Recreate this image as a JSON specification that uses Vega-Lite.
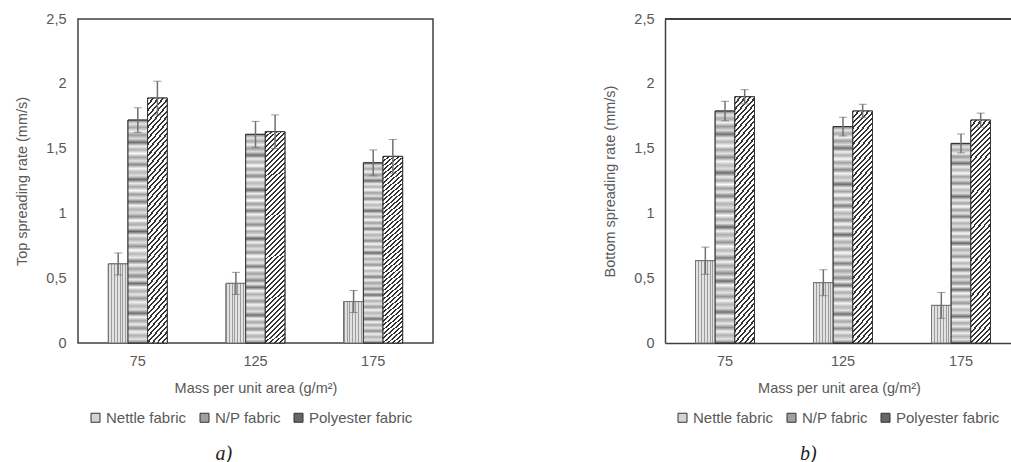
{
"$schema": "https://vega.github.io/schema/vega-lite/v6.json",
"background": "white",
"padding": {"left": 14, "top": 10, "right": 0, "bottom": 0},
"datasets": {
"top": [
{"mass": "75", "fabric": "Nettle fabric", "value": 0.61, "err": 0.085},
{"mass": "75", "fabric": "N/P fabric", "value": 1.72, "err": 0.095},
{"mass": "75", "fabric": "Polyester fabric", "value": 1.89, "err": 0.13},
{"mass": "125", "fabric": "Nettle fabric", "value": 0.46, "err": 0.085},
{"mass": "125", "fabric": "N/P fabric", "value": 1.61, "err": 0.1},
{"mass": "125", "fabric": "Polyester fabric", "value": 1.63, "err": 0.13},
{"mass": "175", "fabric": "Nettle fabric", "value": 0.32, "err": 0.085},
{"mass": "175", "fabric": "N/P fabric", "value": 1.39, "err": 0.1},
{"mass": "175", "fabric": "Polyester fabric", "value": 1.44, "err": 0.13}
],
"bottom": [
{"mass": "75", "fabric": "Nettle fabric", "value": 0.635, "err": 0.105},
{"mass": "75", "fabric": "N/P fabric", "value": 1.79, "err": 0.075},
{"mass": "75", "fabric": "Polyester fabric", "value": 1.9, "err": 0.055},
{"mass": "125", "fabric": "Nettle fabric", "value": 0.465, "err": 0.1},
{"mass": "125", "fabric": "N/P fabric", "value": 1.67, "err": 0.072},
{"mass": "125", "fabric": "Polyester fabric", "value": 1.79, "err": 0.052},
{"mass": "175", "fabric": "Nettle fabric", "value": 0.29, "err": 0.1},
{"mass": "175", "fabric": "N/P fabric", "value": 1.54, "err": 0.073},
{"mass": "175", "fabric": "Polyester fabric", "value": 1.72, "err": 0.054}
]
},
"config": {
"font": "Liberation Sans",
"view": {"stroke": null},
"axis": {"labelFont": "Liberation Sans", "labelFontSize": 14.5, "labelColor": "#595959", "titleFont": "Liberation Sans", "titleFontSize": 14.5, "titleFontWeight": "normal", "titleColor": "#595959", "grid": false, "ticks": false, "domain": false},
"legend": {"orient": "none", "legendX": 10, "legendY": 391, "direction": "horizontal", "title": null, "symbolType": "square", "symbolSize": 81, "symbolStrokeColor": "#333333", "symbolStrokeWidth": 1, "labelFont": "Liberation Sans", "labelFontSize": 15, "labelColor": "#595959", "columnPadding": 10, "labelOffset": 3},
"title": {"orient": "bottom", "anchor": "middle", "frame": "bounds", "font": "Liberation Serif", "fontStyle": "italic", "fontSize": 20, "fontWeight": "normal", "color": "#222222", "offset": 18}
},
"spacing": 168,
"resolve": {"scale": {"x": "independent", "y": "independent", "xOffset": "independent"}, "axis": {"x": "independent", "y": "independent"}, "legend": {"color": "independent"}},
"hconcat": [
{
"width": 355, "height": 324,
"data": {"name": "top"},
"view": {"stroke": "#404040", "strokeWidth": 1.5},
"title": {"text": "a)"},
"encoding": {
"x": {"field": "mass", "type": "ordinal", "sort": ["75", "125", "175"], "scale": {"paddingInner": 0.5, "paddingOuter": 0.258}, "axis": {"labelAngle": 0, "labelPadding": 11, "title": "Mass per unit area (g/m²)", "titlePadding": 14}},
"xOffset": {"field": "fabric", "type": "nominal", "sort": ["Nettle fabric", "N/P fabric", "Polyester fabric"], "scale": {"paddingInner": 0, "paddingOuter": 0}},
"y": {"field": "value", "type": "quantitative", "scale": {"domain": [0, 2.5], "nice": false}, "axis": {"values": [0, 0.5, 1, 1.5, 2, 2.5], "labelExpr": "replace(format(datum.value, '~g'), '.', ',')", "title": "Top spreading rate (mm/s)", "labelPadding": 12, "titlePadding": 16}}
},
"layer": [
{"mark": {"type": "bar", "stroke": "#333333", "strokeWidth": 1},
"encoding": {"color": {"field": "fabric", "type": "nominal", "sort": ["Nettle fabric", "N/P fabric", "Polyester fabric"], "scale": {"domain": ["Nettle fabric", "N/P fabric", "Polyester fabric"], "range": ["#d4d4d4", "#a0a0a0", "#666666"]}}}},
{"transform": [{"filter": "datum.fabric === 'Nettle fabric'"}],
"mark": {"type": "bar", "stroke": "#777777", "strokeWidth": 1, "fill": {"gradient": "linear", "x1": 0, "y1": 0, "x2": 1, "y2": 0, "stops": [
{"offset": 0, "color": "#9c9c9c"}, {"offset": 0.05, "color": "#9c9c9c"}, {"offset": 0.05, "color": "#e2e2e2"}, {"offset": 0.1429, "color": "#e2e2e2"},
{"offset": 0.1429, "color": "#9c9c9c"}, {"offset": 0.1929, "color": "#9c9c9c"}, {"offset": 0.1929, "color": "#e2e2e2"}, {"offset": 0.2857, "color": "#e2e2e2"},
{"offset": 0.2857, "color": "#9c9c9c"}, {"offset": 0.3357, "color": "#9c9c9c"}, {"offset": 0.3357, "color": "#e2e2e2"}, {"offset": 0.4286, "color": "#e2e2e2"},
{"offset": 0.4286, "color": "#9c9c9c"}, {"offset": 0.4786, "color": "#9c9c9c"}, {"offset": 0.4786, "color": "#e2e2e2"}, {"offset": 0.5714, "color": "#e2e2e2"},
{"offset": 0.5714, "color": "#9c9c9c"}, {"offset": 0.6214, "color": "#9c9c9c"}, {"offset": 0.6214, "color": "#e2e2e2"}, {"offset": 0.7143, "color": "#e2e2e2"},
{"offset": 0.7143, "color": "#9c9c9c"}, {"offset": 0.7643, "color": "#9c9c9c"}, {"offset": 0.7643, "color": "#e2e2e2"}, {"offset": 0.8571, "color": "#e2e2e2"},
{"offset": 0.8571, "color": "#9c9c9c"}, {"offset": 0.9071, "color": "#9c9c9c"}, {"offset": 0.9071, "color": "#e2e2e2"}, {"offset": 1, "color": "#e2e2e2"}
]}}},
{"transform": [{"filter": "datum.fabric === 'N/P fabric'"}],
"mark": {"type": "bar", "stroke": "#333333", "strokeWidth": 1, "fill": {"gradient": "linear", "x1": 0, "y1": 0, "x2": 0, "y2": 1, "stops": [
{"offset": 0, "color": "#7a7a7a"}, {"offset": 0.0167, "color": "#e6e6e6"}, {"offset": 0.0333, "color": "#a8a8a8"}, {"offset": 0.05, "color": "#f2f2f2"},
{"offset": 0.0667, "color": "#9a9a9a"}, {"offset": 0.0833, "color": "#dcdcdc"}, {"offset": 0.1, "color": "#6e6e6e"}, {"offset": 0.1167, "color": "#f0f0f0"},
{"offset": 0.1333, "color": "#b0b0b0"}, {"offset": 0.15, "color": "#fafafa"}, {"offset": 0.1667, "color": "#a0a0a0"}, {"offset": 0.1833, "color": "#e4e4e4"},
{"offset": 0.2, "color": "#888888"}, {"offset": 0.2167, "color": "#f6f6f6"}, {"offset": 0.2333, "color": "#b8b8b8"}, {"offset": 0.25, "color": "#e0e0e0"},
{"offset": 0.2667, "color": "#6a6a6a"}, {"offset": 0.2833, "color": "#eeeeee"}, {"offset": 0.3, "color": "#a4a4a4"}, {"offset": 0.3167, "color": "#fcfcfc"},
{"offset": 0.3333, "color": "#9c9c9c"}, {"offset": 0.35, "color": "#e8e8e8"}, {"offset": 0.3667, "color": "#7c7c7c"}, {"offset": 0.3833, "color": "#f4f4f4"},
{"offset": 0.4, "color": "#b2b2b2"}, {"offset": 0.4167, "color": "#dedede"}, {"offset": 0.4333, "color": "#8c8c8c"}, {"offset": 0.45, "color": "#fafafa"},
{"offset": 0.4667, "color": "#a8a8a8"}, {"offset": 0.4833, "color": "#ececec"}, {"offset": 0.5, "color": "#666666"}, {"offset": 0.5167, "color": "#f2f2f2"},
{"offset": 0.5333, "color": "#acacac"}, {"offset": 0.55, "color": "#e2e2e2"}, {"offset": 0.5667, "color": "#949494"}, {"offset": 0.5833, "color": "#fcfcfc"},
{"offset": 0.6, "color": "#b6b6b6"}, {"offset": 0.6167, "color": "#eaeaea"}, {"offset": 0.6333, "color": "#7e7e7e"}, {"offset": 0.65, "color": "#f6f6f6"},
{"offset": 0.6667, "color": "#a2a2a2"}, {"offset": 0.6833, "color": "#dcdcdc"}, {"offset": 0.7, "color": "#8a8a8a"}, {"offset": 0.7167, "color": "#f0f0f0"},
{"offset": 0.7333, "color": "#6c6c6c"}, {"offset": 0.75, "color": "#fafafa"}, {"offset": 0.7667, "color": "#aeaeae"}, {"offset": 0.7833, "color": "#e6e6e6"},
{"offset": 0.8, "color": "#969696"}, {"offset": 0.8167, "color": "#f4f4f4"}, {"offset": 0.8333, "color": "#b4b4b4"}, {"offset": 0.85, "color": "#e0e0e0"},
{"offset": 0.8667, "color": "#707070"}, {"offset": 0.8833, "color": "#f8f8f8"}, {"offset": 0.9, "color": "#a6a6a6"}, {"offset": 0.9167, "color": "#eaeaea"},
{"offset": 0.9333, "color": "#8e8e8e"}, {"offset": 0.95, "color": "#f2f2f2"}, {"offset": 0.9667, "color": "#b0b0b0"}, {"offset": 0.9833, "color": "#e4e4e4"},
{"offset": 1, "color": "#7a7a7a"}
]}}},
{"transform": [{"filter": "datum.fabric === 'Polyester fabric'"}],
"mark": {"type": "bar", "stroke": "#333333", "strokeWidth": 1, "fill": {"gradient": "linear", "x1": 0, "y1": 0, "x2": 0.1, "y2": 1.1, "stops": [
{"offset": 0, "color": "#333"}, {"offset": 0.0083, "color": "#333"}, {"offset": 0.0083, "color": "#fff"}, {"offset": 0.0208, "color": "#fff"},
{"offset": 0.0208, "color": "#333"}, {"offset": 0.0292, "color": "#333"}, {"offset": 0.0292, "color": "#fff"}, {"offset": 0.0417, "color": "#fff"},
{"offset": 0.0417, "color": "#333"}, {"offset": 0.05, "color": "#333"}, {"offset": 0.05, "color": "#fff"}, {"offset": 0.0625, "color": "#fff"},
{"offset": 0.0625, "color": "#333"}, {"offset": 0.0708, "color": "#333"}, {"offset": 0.0708, "color": "#fff"}, {"offset": 0.0833, "color": "#fff"},
{"offset": 0.0833, "color": "#333"}, {"offset": 0.0917, "color": "#333"}, {"offset": 0.0917, "color": "#fff"}, {"offset": 0.1042, "color": "#fff"},
{"offset": 0.1042, "color": "#333"}, {"offset": 0.1125, "color": "#333"}, {"offset": 0.1125, "color": "#fff"}, {"offset": 0.125, "color": "#fff"},
{"offset": 0.125, "color": "#333"}, {"offset": 0.1333, "color": "#333"}, {"offset": 0.1333, "color": "#fff"}, {"offset": 0.1458, "color": "#fff"},
{"offset": 0.1458, "color": "#333"}, {"offset": 0.1542, "color": "#333"}, {"offset": 0.1542, "color": "#fff"}, {"offset": 0.1667, "color": "#fff"},
{"offset": 0.1667, "color": "#333"}, {"offset": 0.175, "color": "#333"}, {"offset": 0.175, "color": "#fff"}, {"offset": 0.1875, "color": "#fff"},
{"offset": 0.1875, "color": "#333"}, {"offset": 0.1958, "color": "#333"}, {"offset": 0.1958, "color": "#fff"}, {"offset": 0.2083, "color": "#fff"},
{"offset": 0.2083, "color": "#333"}, {"offset": 0.2167, "color": "#333"}, {"offset": 0.2167, "color": "#fff"}, {"offset": 0.2292, "color": "#fff"},
{"offset": 0.2292, "color": "#333"}, {"offset": 0.2375, "color": "#333"}, {"offset": 0.2375, "color": "#fff"}, {"offset": 0.25, "color": "#fff"},
{"offset": 0.25, "color": "#333"}, {"offset": 0.2583, "color": "#333"}, {"offset": 0.2583, "color": "#fff"}, {"offset": 0.2708, "color": "#fff"},
{"offset": 0.2708, "color": "#333"}, {"offset": 0.2792, "color": "#333"}, {"offset": 0.2792, "color": "#fff"}, {"offset": 0.2917, "color": "#fff"},
{"offset": 0.2917, "color": "#333"}, {"offset": 0.3, "color": "#333"}, {"offset": 0.3, "color": "#fff"}, {"offset": 0.3125, "color": "#fff"},
{"offset": 0.3125, "color": "#333"}, {"offset": 0.3208, "color": "#333"}, {"offset": 0.3208, "color": "#fff"}, {"offset": 0.3333, "color": "#fff"},
{"offset": 0.3333, "color": "#333"}, {"offset": 0.3417, "color": "#333"}, {"offset": 0.3417, "color": "#fff"}, {"offset": 0.3542, "color": "#fff"},
{"offset": 0.3542, "color": "#333"}, {"offset": 0.3625, "color": "#333"}, {"offset": 0.3625, "color": "#fff"}, {"offset": 0.375, "color": "#fff"},
{"offset": 0.375, "color": "#333"}, {"offset": 0.3833, "color": "#333"}, {"offset": 0.3833, "color": "#fff"}, {"offset": 0.3958, "color": "#fff"},
{"offset": 0.3958, "color": "#333"}, {"offset": 0.4042, "color": "#333"}, {"offset": 0.4042, "color": "#fff"}, {"offset": 0.4167, "color": "#fff"},
{"offset": 0.4167, "color": "#333"}, {"offset": 0.425, "color": "#333"}, {"offset": 0.425, "color": "#fff"}, {"offset": 0.4375, "color": "#fff"},
{"offset": 0.4375, "color": "#333"}, {"offset": 0.4458, "color": "#333"}, {"offset": 0.4458, "color": "#fff"}, {"offset": 0.4583, "color": "#fff"},
{"offset": 0.4583, "color": "#333"}, {"offset": 0.4667, "color": "#333"}, {"offset": 0.4667, "color": "#fff"}, {"offset": 0.4792, "color": "#fff"},
{"offset": 0.4792, "color": "#333"}, {"offset": 0.4875, "color": "#333"}, {"offset": 0.4875, "color": "#fff"}, {"offset": 0.5, "color": "#fff"},
{"offset": 0.5, "color": "#333"}, {"offset": 0.5083, "color": "#333"}, {"offset": 0.5083, "color": "#fff"}, {"offset": 0.5208, "color": "#fff"},
{"offset": 0.5208, "color": "#333"}, {"offset": 0.5292, "color": "#333"}, {"offset": 0.5292, "color": "#fff"}, {"offset": 0.5417, "color": "#fff"},
{"offset": 0.5417, "color": "#333"}, {"offset": 0.55, "color": "#333"}, {"offset": 0.55, "color": "#fff"}, {"offset": 0.5625, "color": "#fff"},
{"offset": 0.5625, "color": "#333"}, {"offset": 0.5708, "color": "#333"}, {"offset": 0.5708, "color": "#fff"}, {"offset": 0.5833, "color": "#fff"},
{"offset": 0.5833, "color": "#333"}, {"offset": 0.5917, "color": "#333"}, {"offset": 0.5917, "color": "#fff"}, {"offset": 0.6042, "color": "#fff"},
{"offset": 0.6042, "color": "#333"}, {"offset": 0.6125, "color": "#333"}, {"offset": 0.6125, "color": "#fff"}, {"offset": 0.625, "color": "#fff"},
{"offset": 0.625, "color": "#333"}, {"offset": 0.6333, "color": "#333"}, {"offset": 0.6333, "color": "#fff"}, {"offset": 0.6458, "color": "#fff"},
{"offset": 0.6458, "color": "#333"}, {"offset": 0.6542, "color": "#333"}, {"offset": 0.6542, "color": "#fff"}, {"offset": 0.6667, "color": "#fff"},
{"offset": 0.6667, "color": "#333"}, {"offset": 0.675, "color": "#333"}, {"offset": 0.675, "color": "#fff"}, {"offset": 0.6875, "color": "#fff"},
{"offset": 0.6875, "color": "#333"}, {"offset": 0.6958, "color": "#333"}, {"offset": 0.6958, "color": "#fff"}, {"offset": 0.7083, "color": "#fff"},
{"offset": 0.7083, "color": "#333"}, {"offset": 0.7167, "color": "#333"}, {"offset": 0.7167, "color": "#fff"}, {"offset": 0.7292, "color": "#fff"},
{"offset": 0.7292, "color": "#333"}, {"offset": 0.7375, "color": "#333"}, {"offset": 0.7375, "color": "#fff"}, {"offset": 0.75, "color": "#fff"},
{"offset": 0.75, "color": "#333"}, {"offset": 0.7583, "color": "#333"}, {"offset": 0.7583, "color": "#fff"}, {"offset": 0.7708, "color": "#fff"},
{"offset": 0.7708, "color": "#333"}, {"offset": 0.7792, "color": "#333"}, {"offset": 0.7792, "color": "#fff"}, {"offset": 0.7917, "color": "#fff"},
{"offset": 0.7917, "color": "#333"}, {"offset": 0.8, "color": "#333"}, {"offset": 0.8, "color": "#fff"}, {"offset": 0.8125, "color": "#fff"},
{"offset": 0.8125, "color": "#333"}, {"offset": 0.8208, "color": "#333"}, {"offset": 0.8208, "color": "#fff"}, {"offset": 0.8333, "color": "#fff"},
{"offset": 0.8333, "color": "#333"}, {"offset": 0.8417, "color": "#333"}, {"offset": 0.8417, "color": "#fff"}, {"offset": 0.8542, "color": "#fff"},
{"offset": 0.8542, "color": "#333"}, {"offset": 0.8625, "color": "#333"}, {"offset": 0.8625, "color": "#fff"}, {"offset": 0.875, "color": "#fff"},
{"offset": 0.875, "color": "#333"}, {"offset": 0.8833, "color": "#333"}, {"offset": 0.8833, "color": "#fff"}, {"offset": 0.8958, "color": "#fff"},
{"offset": 0.8958, "color": "#333"}, {"offset": 0.9042, "color": "#333"}, {"offset": 0.9042, "color": "#fff"}, {"offset": 0.9167, "color": "#fff"},
{"offset": 0.9167, "color": "#333"}, {"offset": 0.925, "color": "#333"}, {"offset": 0.925, "color": "#fff"}, {"offset": 0.9375, "color": "#fff"},
{"offset": 0.9375, "color": "#333"}, {"offset": 0.9458, "color": "#333"}, {"offset": 0.9458, "color": "#fff"}, {"offset": 0.9583, "color": "#fff"},
{"offset": 0.9583, "color": "#333"}, {"offset": 0.9667, "color": "#333"}, {"offset": 0.9667, "color": "#fff"}, {"offset": 0.9792, "color": "#fff"},
{"offset": 0.9792, "color": "#333"}, {"offset": 0.9875, "color": "#333"}, {"offset": 0.9875, "color": "#fff"}, {"offset": 1, "color": "#fff"}
]}}},
{"mark": {"type": "errorbar", "color": "#707070", "ticks": {"size": 8, "color": "#707070", "strokeWidth": 1.5}, "rule": {"color": "#707070", "strokeWidth": 1.5}},
"encoding": {"yError": {"field": "err"}}}
]
},
{
"width": 348, "height": 324,
"data": {"name": "bottom"},
"title": {"text": "b)"},
"layer": [
{
"encoding": {
"x": {"field": "mass", "type": "ordinal", "sort": ["75", "125", "175"], "scale": {"paddingInner": 0.5, "paddingOuter": 0.2246, "align": 0.5755}, "axis": {"labelAngle": 0, "labelPadding": 11, "title": "Mass per unit area (g/m²)", "titlePadding": 14, "domain": true, "domainColor": "#404040", "domainWidth": 1.5}},
"xOffset": {"field": "fabric", "type": "nominal", "sort": ["Nettle fabric", "N/P fabric", "Polyester fabric"], "scale": {"paddingInner": 0, "paddingOuter": 0}},
"y": {"field": "value", "type": "quantitative", "scale": {"domain": [0, 2.5], "nice": false}, "axis": {"values": [0, 0.5, 1, 1.5, 2, 2.5], "labelExpr": "replace(format(datum.value, '~g'), '.', ',')", "title": "Bottom spreading rate (mm/s)", "labelPadding": 11, "titlePadding": 16, "domain": true, "domainColor": "#404040", "domainWidth": 1.5}}
},
"layer": [
{"mark": {"type": "bar", "stroke": "#333333", "strokeWidth": 1},
"encoding": {"color": {"field": "fabric", "type": "nominal", "sort": ["Nettle fabric", "N/P fabric", "Polyester fabric"]}}},
{"transform": [{"filter": "datum.fabric === 'Nettle fabric'"}],
"mark": {"type": "bar", "stroke": "#777777", "strokeWidth": 1, "fill": {"gradient": "linear", "x1": 0, "y1": 0, "x2": 1, "y2": 0, "stops": [
{"offset": 0, "color": "#9c9c9c"}, {"offset": 0.05, "color": "#9c9c9c"}, {"offset": 0.05, "color": "#e2e2e2"}, {"offset": 0.1429, "color": "#e2e2e2"},
{"offset": 0.1429, "color": "#9c9c9c"}, {"offset": 0.1929, "color": "#9c9c9c"}, {"offset": 0.1929, "color": "#e2e2e2"}, {"offset": 0.2857, "color": "#e2e2e2"},
{"offset": 0.2857, "color": "#9c9c9c"}, {"offset": 0.3357, "color": "#9c9c9c"}, {"offset": 0.3357, "color": "#e2e2e2"}, {"offset": 0.4286, "color": "#e2e2e2"},
{"offset": 0.4286, "color": "#9c9c9c"}, {"offset": 0.4786, "color": "#9c9c9c"}, {"offset": 0.4786, "color": "#e2e2e2"}, {"offset": 0.5714, "color": "#e2e2e2"},
{"offset": 0.5714, "color": "#9c9c9c"}, {"offset": 0.6214, "color": "#9c9c9c"}, {"offset": 0.6214, "color": "#e2e2e2"}, {"offset": 0.7143, "color": "#e2e2e2"},
{"offset": 0.7143, "color": "#9c9c9c"}, {"offset": 0.7643, "color": "#9c9c9c"}, {"offset": 0.7643, "color": "#e2e2e2"}, {"offset": 0.8571, "color": "#e2e2e2"},
{"offset": 0.8571, "color": "#9c9c9c"}, {"offset": 0.9071, "color": "#9c9c9c"}, {"offset": 0.9071, "color": "#e2e2e2"}, {"offset": 1, "color": "#e2e2e2"}
]}}},
{"transform": [{"filter": "datum.fabric === 'N/P fabric'"}],
"mark": {"type": "bar", "stroke": "#333333", "strokeWidth": 1, "fill": {"gradient": "linear", "x1": 0, "y1": 0, "x2": 0, "y2": 1, "stops": [
{"offset": 0, "color": "#7a7a7a"}, {"offset": 0.0167, "color": "#e6e6e6"}, {"offset": 0.0333, "color": "#a8a8a8"}, {"offset": 0.05, "color": "#f2f2f2"},
{"offset": 0.0667, "color": "#9a9a9a"}, {"offset": 0.0833, "color": "#dcdcdc"}, {"offset": 0.1, "color": "#6e6e6e"}, {"offset": 0.1167, "color": "#f0f0f0"},
{"offset": 0.1333, "color": "#b0b0b0"}, {"offset": 0.15, "color": "#fafafa"}, {"offset": 0.1667, "color": "#a0a0a0"}, {"offset": 0.1833, "color": "#e4e4e4"},
{"offset": 0.2, "color": "#888888"}, {"offset": 0.2167, "color": "#f6f6f6"}, {"offset": 0.2333, "color": "#b8b8b8"}, {"offset": 0.25, "color": "#e0e0e0"},
{"offset": 0.2667, "color": "#6a6a6a"}, {"offset": 0.2833, "color": "#eeeeee"}, {"offset": 0.3, "color": "#a4a4a4"}, {"offset": 0.3167, "color": "#fcfcfc"},
{"offset": 0.3333, "color": "#9c9c9c"}, {"offset": 0.35, "color": "#e8e8e8"}, {"offset": 0.3667, "color": "#7c7c7c"}, {"offset": 0.3833, "color": "#f4f4f4"},
{"offset": 0.4, "color": "#b2b2b2"}, {"offset": 0.4167, "color": "#dedede"}, {"offset": 0.4333, "color": "#8c8c8c"}, {"offset": 0.45, "color": "#fafafa"},
{"offset": 0.4667, "color": "#a8a8a8"}, {"offset": 0.4833, "color": "#ececec"}, {"offset": 0.5, "color": "#666666"}, {"offset": 0.5167, "color": "#f2f2f2"},
{"offset": 0.5333, "color": "#acacac"}, {"offset": 0.55, "color": "#e2e2e2"}, {"offset": 0.5667, "color": "#949494"}, {"offset": 0.5833, "color": "#fcfcfc"},
{"offset": 0.6, "color": "#b6b6b6"}, {"offset": 0.6167, "color": "#eaeaea"}, {"offset": 0.6333, "color": "#7e7e7e"}, {"offset": 0.65, "color": "#f6f6f6"},
{"offset": 0.6667, "color": "#a2a2a2"}, {"offset": 0.6833, "color": "#dcdcdc"}, {"offset": 0.7, "color": "#8a8a8a"}, {"offset": 0.7167, "color": "#f0f0f0"},
{"offset": 0.7333, "color": "#6c6c6c"}, {"offset": 0.75, "color": "#fafafa"}, {"offset": 0.7667, "color": "#aeaeae"}, {"offset": 0.7833, "color": "#e6e6e6"},
{"offset": 0.8, "color": "#969696"}, {"offset": 0.8167, "color": "#f4f4f4"}, {"offset": 0.8333, "color": "#b4b4b4"}, {"offset": 0.85, "color": "#e0e0e0"},
{"offset": 0.8667, "color": "#707070"}, {"offset": 0.8833, "color": "#f8f8f8"}, {"offset": 0.9, "color": "#a6a6a6"}, {"offset": 0.9167, "color": "#eaeaea"},
{"offset": 0.9333, "color": "#8e8e8e"}, {"offset": 0.95, "color": "#f2f2f2"}, {"offset": 0.9667, "color": "#b0b0b0"}, {"offset": 0.9833, "color": "#e4e4e4"},
{"offset": 1, "color": "#7a7a7a"}
]}}},
{"transform": [{"filter": "datum.fabric === 'Polyester fabric'"}],
"mark": {"type": "bar", "stroke": "#333333", "strokeWidth": 1, "fill": {"gradient": "linear", "x1": 0, "y1": 0, "x2": 0.1, "y2": 1.1, "stops": [
{"offset": 0, "color": "#333"}, {"offset": 0.0083, "color": "#333"}, {"offset": 0.0083, "color": "#fff"}, {"offset": 0.0208, "color": "#fff"},
{"offset": 0.0208, "color": "#333"}, {"offset": 0.0292, "color": "#333"}, {"offset": 0.0292, "color": "#fff"}, {"offset": 0.0417, "color": "#fff"},
{"offset": 0.0417, "color": "#333"}, {"offset": 0.05, "color": "#333"}, {"offset": 0.05, "color": "#fff"}, {"offset": 0.0625, "color": "#fff"},
{"offset": 0.0625, "color": "#333"}, {"offset": 0.0708, "color": "#333"}, {"offset": 0.0708, "color": "#fff"}, {"offset": 0.0833, "color": "#fff"},
{"offset": 0.0833, "color": "#333"}, {"offset": 0.0917, "color": "#333"}, {"offset": 0.0917, "color": "#fff"}, {"offset": 0.1042, "color": "#fff"},
{"offset": 0.1042, "color": "#333"}, {"offset": 0.1125, "color": "#333"}, {"offset": 0.1125, "color": "#fff"}, {"offset": 0.125, "color": "#fff"},
{"offset": 0.125, "color": "#333"}, {"offset": 0.1333, "color": "#333"}, {"offset": 0.1333, "color": "#fff"}, {"offset": 0.1458, "color": "#fff"},
{"offset": 0.1458, "color": "#333"}, {"offset": 0.1542, "color": "#333"}, {"offset": 0.1542, "color": "#fff"}, {"offset": 0.1667, "color": "#fff"},
{"offset": 0.1667, "color": "#333"}, {"offset": 0.175, "color": "#333"}, {"offset": 0.175, "color": "#fff"}, {"offset": 0.1875, "color": "#fff"},
{"offset": 0.1875, "color": "#333"}, {"offset": 0.1958, "color": "#333"}, {"offset": 0.1958, "color": "#fff"}, {"offset": 0.2083, "color": "#fff"},
{"offset": 0.2083, "color": "#333"}, {"offset": 0.2167, "color": "#333"}, {"offset": 0.2167, "color": "#fff"}, {"offset": 0.2292, "color": "#fff"},
{"offset": 0.2292, "color": "#333"}, {"offset": 0.2375, "color": "#333"}, {"offset": 0.2375, "color": "#fff"}, {"offset": 0.25, "color": "#fff"},
{"offset": 0.25, "color": "#333"}, {"offset": 0.2583, "color": "#333"}, {"offset": 0.2583, "color": "#fff"}, {"offset": 0.2708, "color": "#fff"},
{"offset": 0.2708, "color": "#333"}, {"offset": 0.2792, "color": "#333"}, {"offset": 0.2792, "color": "#fff"}, {"offset": 0.2917, "color": "#fff"},
{"offset": 0.2917, "color": "#333"}, {"offset": 0.3, "color": "#333"}, {"offset": 0.3, "color": "#fff"}, {"offset": 0.3125, "color": "#fff"},
{"offset": 0.3125, "color": "#333"}, {"offset": 0.3208, "color": "#333"}, {"offset": 0.3208, "color": "#fff"}, {"offset": 0.3333, "color": "#fff"},
{"offset": 0.3333, "color": "#333"}, {"offset": 0.3417, "color": "#333"}, {"offset": 0.3417, "color": "#fff"}, {"offset": 0.3542, "color": "#fff"},
{"offset": 0.3542, "color": "#333"}, {"offset": 0.3625, "color": "#333"}, {"offset": 0.3625, "color": "#fff"}, {"offset": 0.375, "color": "#fff"},
{"offset": 0.375, "color": "#333"}, {"offset": 0.3833, "color": "#333"}, {"offset": 0.3833, "color": "#fff"}, {"offset": 0.3958, "color": "#fff"},
{"offset": 0.3958, "color": "#333"}, {"offset": 0.4042, "color": "#333"}, {"offset": 0.4042, "color": "#fff"}, {"offset": 0.4167, "color": "#fff"},
{"offset": 0.4167, "color": "#333"}, {"offset": 0.425, "color": "#333"}, {"offset": 0.425, "color": "#fff"}, {"offset": 0.4375, "color": "#fff"},
{"offset": 0.4375, "color": "#333"}, {"offset": 0.4458, "color": "#333"}, {"offset": 0.4458, "color": "#fff"}, {"offset": 0.4583, "color": "#fff"},
{"offset": 0.4583, "color": "#333"}, {"offset": 0.4667, "color": "#333"}, {"offset": 0.4667, "color": "#fff"}, {"offset": 0.4792, "color": "#fff"},
{"offset": 0.4792, "color": "#333"}, {"offset": 0.4875, "color": "#333"}, {"offset": 0.4875, "color": "#fff"}, {"offset": 0.5, "color": "#fff"},
{"offset": 0.5, "color": "#333"}, {"offset": 0.5083, "color": "#333"}, {"offset": 0.5083, "color": "#fff"}, {"offset": 0.5208, "color": "#fff"},
{"offset": 0.5208, "color": "#333"}, {"offset": 0.5292, "color": "#333"}, {"offset": 0.5292, "color": "#fff"}, {"offset": 0.5417, "color": "#fff"},
{"offset": 0.5417, "color": "#333"}, {"offset": 0.55, "color": "#333"}, {"offset": 0.55, "color": "#fff"}, {"offset": 0.5625, "color": "#fff"},
{"offset": 0.5625, "color": "#333"}, {"offset": 0.5708, "color": "#333"}, {"offset": 0.5708, "color": "#fff"}, {"offset": 0.5833, "color": "#fff"},
{"offset": 0.5833, "color": "#333"}, {"offset": 0.5917, "color": "#333"}, {"offset": 0.5917, "color": "#fff"}, {"offset": 0.6042, "color": "#fff"},
{"offset": 0.6042, "color": "#333"}, {"offset": 0.6125, "color": "#333"}, {"offset": 0.6125, "color": "#fff"}, {"offset": 0.625, "color": "#fff"},
{"offset": 0.625, "color": "#333"}, {"offset": 0.6333, "color": "#333"}, {"offset": 0.6333, "color": "#fff"}, {"offset": 0.6458, "color": "#fff"},
{"offset": 0.6458, "color": "#333"}, {"offset": 0.6542, "color": "#333"}, {"offset": 0.6542, "color": "#fff"}, {"offset": 0.6667, "color": "#fff"},
{"offset": 0.6667, "color": "#333"}, {"offset": 0.675, "color": "#333"}, {"offset": 0.675, "color": "#fff"}, {"offset": 0.6875, "color": "#fff"},
{"offset": 0.6875, "color": "#333"}, {"offset": 0.6958, "color": "#333"}, {"offset": 0.6958, "color": "#fff"}, {"offset": 0.7083, "color": "#fff"},
{"offset": 0.7083, "color": "#333"}, {"offset": 0.7167, "color": "#333"}, {"offset": 0.7167, "color": "#fff"}, {"offset": 0.7292, "color": "#fff"},
{"offset": 0.7292, "color": "#333"}, {"offset": 0.7375, "color": "#333"}, {"offset": 0.7375, "color": "#fff"}, {"offset": 0.75, "color": "#fff"},
{"offset": 0.75, "color": "#333"}, {"offset": 0.7583, "color": "#333"}, {"offset": 0.7583, "color": "#fff"}, {"offset": 0.7708, "color": "#fff"},
{"offset": 0.7708, "color": "#333"}, {"offset": 0.7792, "color": "#333"}, {"offset": 0.7792, "color": "#fff"}, {"offset": 0.7917, "color": "#fff"},
{"offset": 0.7917, "color": "#333"}, {"offset": 0.8, "color": "#333"}, {"offset": 0.8, "color": "#fff"}, {"offset": 0.8125, "color": "#fff"},
{"offset": 0.8125, "color": "#333"}, {"offset": 0.8208, "color": "#333"}, {"offset": 0.8208, "color": "#fff"}, {"offset": 0.8333, "color": "#fff"},
{"offset": 0.8333, "color": "#333"}, {"offset": 0.8417, "color": "#333"}, {"offset": 0.8417, "color": "#fff"}, {"offset": 0.8542, "color": "#fff"},
{"offset": 0.8542, "color": "#333"}, {"offset": 0.8625, "color": "#333"}, {"offset": 0.8625, "color": "#fff"}, {"offset": 0.875, "color": "#fff"},
{"offset": 0.875, "color": "#333"}, {"offset": 0.8833, "color": "#333"}, {"offset": 0.8833, "color": "#fff"}, {"offset": 0.8958, "color": "#fff"},
{"offset": 0.8958, "color": "#333"}, {"offset": 0.9042, "color": "#333"}, {"offset": 0.9042, "color": "#fff"}, {"offset": 0.9167, "color": "#fff"},
{"offset": 0.9167, "color": "#333"}, {"offset": 0.925, "color": "#333"}, {"offset": 0.925, "color": "#fff"}, {"offset": 0.9375, "color": "#fff"},
{"offset": 0.9375, "color": "#333"}, {"offset": 0.9458, "color": "#333"}, {"offset": 0.9458, "color": "#fff"}, {"offset": 0.9583, "color": "#fff"},
{"offset": 0.9583, "color": "#333"}, {"offset": 0.9667, "color": "#333"}, {"offset": 0.9667, "color": "#fff"}, {"offset": 0.9792, "color": "#fff"},
{"offset": 0.9792, "color": "#333"}, {"offset": 0.9875, "color": "#333"}, {"offset": 0.9875, "color": "#fff"}, {"offset": 1, "color": "#fff"}
]}}},
{"mark": {"type": "errorbar", "color": "#707070", "ticks": {"size": 8, "color": "#707070", "strokeWidth": 1.5}, "rule": {"color": "#707070", "strokeWidth": 1.5}},
"encoding": {"yError": {"field": "err"}}}
]
},
{"mark": {"type": "rule", "color": "#404040", "strokeWidth": 1.5},
"encoding": {"y": {"datum": 2.5}}}
]
}
]
}
